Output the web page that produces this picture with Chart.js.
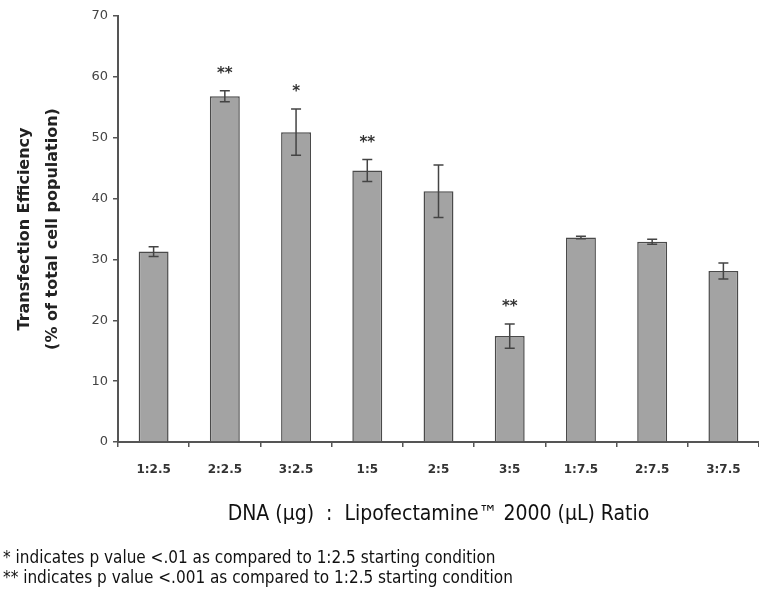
<!DOCTYPE html>
<html>
<head>
<meta charset="utf-8">
<script src="https://cdn.jsdelivr.net/npm/chart.js@4"></script>
<style>
  html, body { margin: 0; padding: 0; background: #fff; }
  #chart { display: block; }
</style>
</head>
<body>
<canvas id="chart" width="759" height="599"></canvas>
<script>
// ratios of DNA (ug) : Lipofectamine (uL)
const ratios = ['1:2.5', '2:2.5', '3:2.5', '1:5', '2:5', '3:5', '1:7.5', '2:7.5', '3:7.5'];
// mean transfection efficiency, % of total cell population
const efficiency = [31.3, 56.8, 50.9, 44.6, 41.2, 17.4, 33.6, 32.9, 28.1];
// error bar half-widths
const errors = [0.8, 0.9, 3.8, 1.8, 4.3, 2.0, 0.2, 0.4, 1.3];
// significance markers
const stars = ['', '**', '*', '**', '', '**', '', '', ''];
const yTicks = [0, 10, 20, 30, 40, 50, 60, 70];

const footnotes = [
    '* indicates p value <.01 as compared to 1:2.5 starting condition',
    '** indicates p value <.001 as compared to 1:2.5 starting condition'
];

const axisColor = '#555555';

// draws error bars and asterisks on top of the bars
const errorBarPlugin = {
    id: 'errorBars',
    afterDatasetsDraw(chart) {
        const ctx = chart.ctx;
        const x = chart.scales.x;
        const y = chart.scales.y;
        ctx.save();
        ctx.strokeStyle = '#444';
        ctx.lineWidth = 1.5;
        efficiency.forEach((v, i) => {
            const cx = x.getPixelForValue(i);
            const top = y.getPixelForValue(v + errors[i]);
            const bottom = y.getPixelForValue(v - errors[i]);
            ctx.beginPath();
            ctx.moveTo(cx, top);
            ctx.lineTo(cx, bottom);
            ctx.moveTo(cx - 5, top);
            ctx.lineTo(cx + 5, top);
            ctx.moveTo(cx - 5, bottom);
            ctx.lineTo(cx + 5, bottom);
            ctx.stroke();
            if (stars[i]) {
                ctx.fillStyle = '#333';
                ctx.font = 'bold 15px "DejaVu Sans"';
                ctx.textAlign = 'center';
                ctx.textBaseline = 'alphabetic';
                ctx.fillText(stars[i], cx, top - 13);
            }
        });
        ctx.restore();
    },
    afterDraw(chart) {
        // footnotes under the axis title
        const ctx = chart.ctx;
        ctx.save();
        ctx.fillStyle = '#111';
        ctx.font = '17px "DejaVu Sans Condensed"';
        ctx.textAlign = 'left';
        ctx.textBaseline = 'middle';
        ctx.fillText(footnotes[0], 3, 559);
        ctx.fillText(footnotes[1], 3, 579);
        ctx.restore();
    }
};

new Chart(document.getElementById('chart'), {
    type: 'bar',
    data: {
        labels: ratios,
        datasets: [{
            data: efficiency,
            backgroundColor: '#a3a3a3',
            borderColor: '#4a4a4a',
            borderWidth: 1.5,
            borderSkipped: 'bottom',
            categoryPercentage: 1.0,
            barPercentage: 0.42
        }]
    },
    options: {
        responsive: false,
        animation: false,
        layout: { autoPadding: false, padding: { top: 16, right: -5, bottom: 72, left: 0 } },
        plugins: {
            legend: { display: false },
            tooltip: { enabled: false }
        },
        scales: {
            x: {
                afterFit(scale) { scale.height = 599 - 72 - 442; },
                grid: { drawOnChartArea: false, drawTicks: true, tickLength: 5, color: axisColor, lineWidth: 1.5 },
                border: { color: axisColor, width: 2 },
                ticks: { color: '#333', padding: 16, font: { family: 'DejaVu Sans', size: 12, weight: 'bold' } },
                title: {
                    display: true,
                    text: 'DNA (\u00b5g)  :  Lipofectamine\u2122 2000 (\u00b5L) Ratio',
                    color: '#111',
                    font: { family: 'DejaVu Sans Condensed', size: 21, lineHeight: 1.2 },
                    padding: 0
                }
            },
            y: {
                min: 0,
                max: 70,
                afterFit(scale) { scale.width = 118; },
                afterBuildTicks(scale) { scale.ticks = yTicks.map(v => ({ value: v })); },
                grid: { drawOnChartArea: false, drawTicks: true, tickLength: 5, color: axisColor, lineWidth: 1.5 },
                border: { color: axisColor, width: 2 },
                ticks: { color: '#444', padding: 5, font: { family: 'DejaVu Sans', size: 13 } },
                title: {
                    display: true,
                    text: ['Transfection Efficiency', '(% of total cell population)'],
                    color: '#222',
                    font: { family: 'DejaVu Sans', size: 16, weight: 'bold', lineHeight: 1.8 },
                    padding: { top: 10, bottom: 0 }
                }
            }
        }
    },
    plugins: [errorBarPlugin]
});
</script>
</body>
</html>
